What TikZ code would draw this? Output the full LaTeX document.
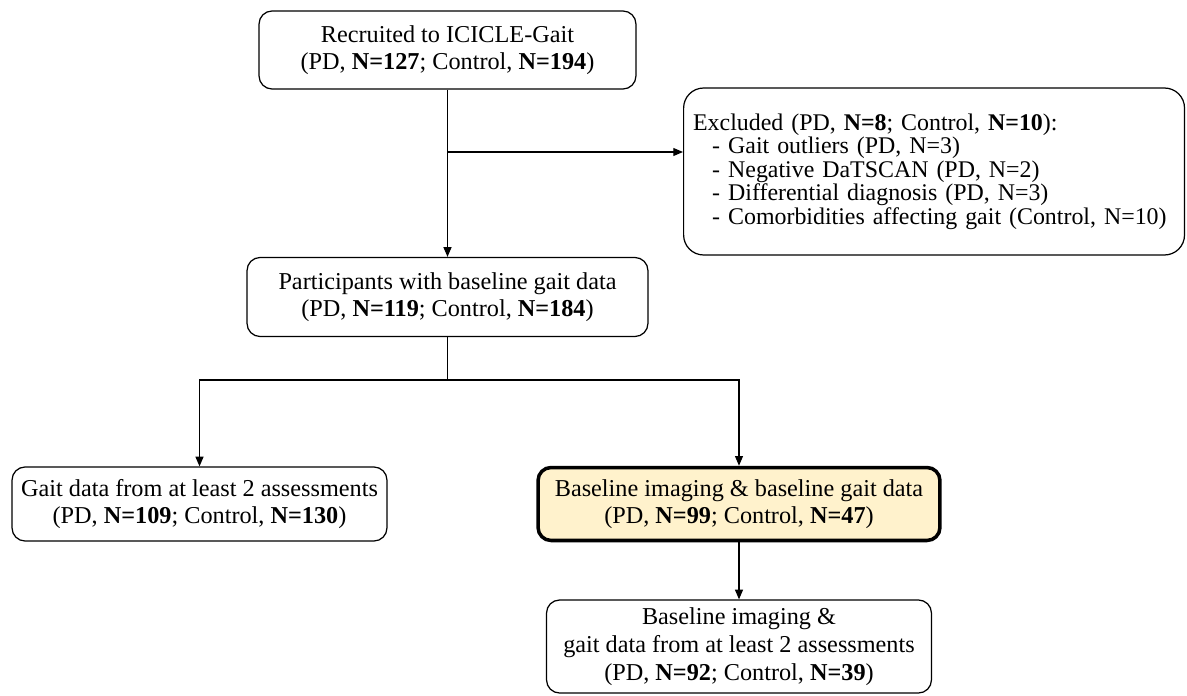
\documentclass[tikz,border=0pt]{standalone}
\usepackage{fontspec}
\setmainfont{Liberation Serif}
\usetikzlibrary{positioning,arrows.meta}
\definecolor{hilite}{RGB}{255,242,204}
\tikzset{
  box/.style={draw, rounded corners=0.26cm, line width=0.7pt, align=center,
    inner sep=0pt, font=\fontsize{13.8}{15.5}\selectfont},
  keybox/.style={box, line width=2pt, fill=hilite},
  link/.style={-{Triangle[length=5.5pt,width=4.5pt]}, line width=0.7pt}
}
\newcommand{\nb}[1]{\textbf{N=#1}}
\begin{document}
\begin{tikzpicture}[x=0.02cm, y=-0.02cm]
  \useasboundingbox (0,0) rectangle (1187,696);
  % boxes
  \node[box, minimum width=7.54cm, minimum height=1.56cm] (recruited) at (447.5,50)
    {Recruited to ICICLE-Gait\\(PD, \nb{127}; Control, \nb{194})};
  \node[box, rounded corners=0.4cm, anchor=west, align=left, text width=9.64cm, inner xsep=0.19cm,
    minimum height=3.34cm, font=\fontsize{13.6}{13.4}\selectfont] (excluded) at (683,171.5)
    {Excluded (PD, \nb{8}; Control, \nb{10}):\\
     \hspace*{0.8em}- Gait outliers (PD, N=3)\\
     \hspace*{0.8em}- Negative DaTSCAN (PD, N=2)\\
     \hspace*{0.8em}- Differential diagnosis (PD, N=3)\\
     \hspace*{0.8em}- Comorbidities affecting gait (Control, N=10)};
  \node[box, minimum width=8.02cm, minimum height=1.58cm] (baseline) at (447.5,297)
    {Participants with baseline gait data\\(PD, \nb{119}; Control, \nb{184})};
  \node[box, minimum width=7.5cm, minimum height=1.48cm] (longit) at (199.5,504)
    {Gait data from at least 2 assessments\\(PD, \nb{109}; Control, \nb{130})};
  \node[keybox, minimum width=8.04cm, minimum height=1.46cm] (imaging) at (739,504)
    {Baseline imaging \& baseline gait data\\(PD, \nb{99}; Control, \nb{47})};
  \node[box, minimum width=7.7cm, minimum height=1.86cm,
    font=\fontsize{13.8}{16}\selectfont] (imglong) at (739,646.5)
    {Baseline imaging \&\\gait data from at least 2 assessments\\(PD, \nb{92}; Control, \nb{39})};
  % connectors
  \coordinate (split) at (447.5,152);
  \coordinate (fork) at (447.5,380);
  \draw[link] (recruited) -- (baseline);
  \draw[link] (split) -- (split -| excluded.west);
  \draw[line width=0.7pt] (baseline) -- (fork);
  \draw[link] (fork) -| (longit);
  \draw[link] (fork) -| (imaging);
  \draw[link] (imaging) -- (imglong);
\end{tikzpicture}
\end{document}
